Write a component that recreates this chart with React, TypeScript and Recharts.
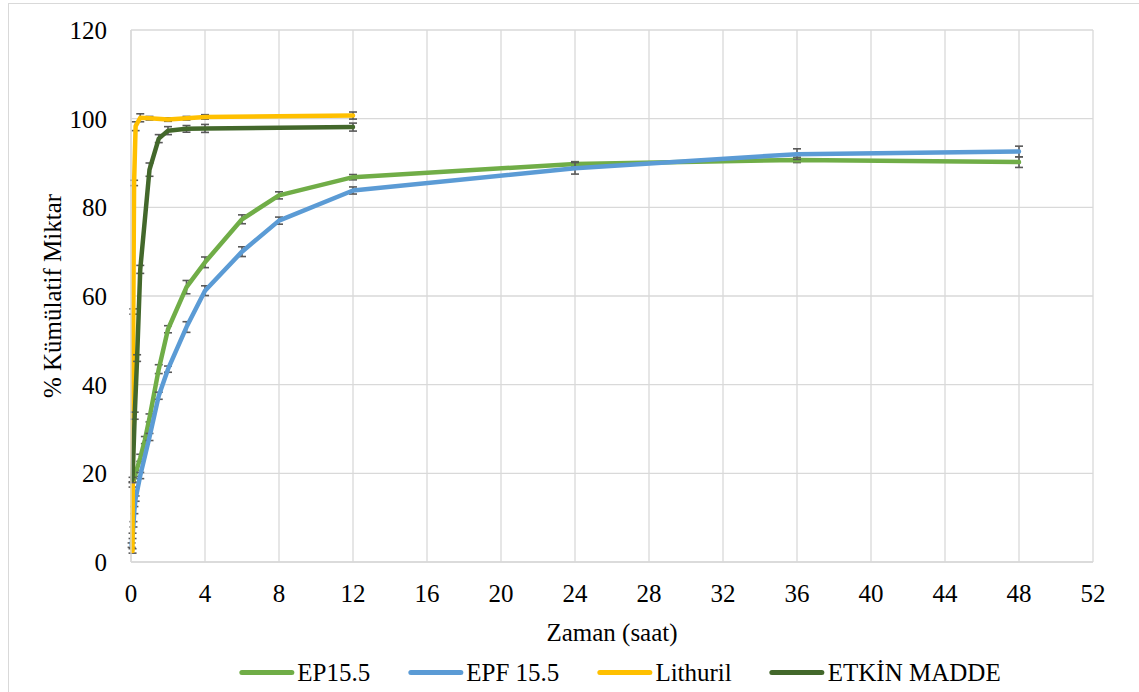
import { LineChart, Line, XAxis, YAxis, CartesianGrid, ErrorBar, Label } from "recharts";

const FONT = "'Liberation Serif', Tinos, 'Times New Roman', 'DejaVu Serif', serif";
const FS = 25;

const seriesNames = ["EP15.5", "EPF 15.5", "Lithuril", "ETKİN MADDE"];
const seriesColors = ["#70AD47", "#5B9BD5", "#FFC000", "#43682B"];

const xTicks = [0, 4, 8, 12, 16, 20, 24, 28, 32, 36, 40, 44, 48, 52];
const yTicks = [0, 20, 40, 60, 80, 100, 120];

// EP15.5
const ep155Time = [0.083, 0.25, 0.5, 0.75, 1, 1.5, 2, 3, 4, 6, 8, 12, 24, 36, 48];
const ep155Value = [17.5, 20, 23.5, 27.5, 32.5, 43.5, 52.5, 62, 67.6, 77.3, 82.7, 86.8, 89.8, 90.7, 90.2];
const ep155Err = [0.6, 0.7, 0.8, 0.8, 0.9, 1.0, 0.8, 1.5, 1.2, 1.0, 0.8, 0.6, 0.5, 0.6, 1.2];

// EPF 15.5
const epf155Time = [0.033, 0.083, 0.133, 0.183, 0.25, 0.5, 1, 1.5, 2, 3, 4, 6, 8, 12, 24, 36, 48];
const epf155Value = [3.8, 5.9, 8.5, 11.7, 14.3, 19.5, 28.2, 37.5, 43.5, 53, 61.2, 70, 77, 83.8, 88.8, 92, 92.6];
const epf155Err = [0.5, 0.6, 0.6, 0.8, 0.6, 0.7, 0.8, 0.8, 0.7, 1.2, 1.1, 1.1, 0.8, 0.8, 1.3, 1.2, 1.2];

// Lithuril
const lithTime = [0.083, 0.125, 0.167, 0.25, 0.5, 1, 2, 3, 4, 12];
const lithValue = [2.5, 56.5, 85.5, 98.3, 100.2, 100.1, 99.8, 100.1, 100.4, 100.7];
const lithErr = [0.5, 0.6, 0.6, 1.0, 0.9, 0.4, 0.4, 0.4, 0.5, 0.8];

// ETKİN MADDE
const etkinTime = [0.083, 0.2, 0.33, 0.5, 1, 1.5, 2, 3, 4, 12];
const etkinValue = [18.5, 33, 46, 66, 88.5, 95.5, 97.3, 97.7, 97.8, 98.1];
const etkinErr = [0.6, 0.8, 0.75, 0.9, 1.5, 0.9, 0.9, 0.75, 0.9, 0.9];

const toRows = (t: number[], v: number[], e: number[]) =>
  t.map((x, i) => ({ t: x, v: v[i], e: e[i] }));

const seriesData = [
  toRows(ep155Time, ep155Value, ep155Err),
  toRows(epf155Time, epf155Value, epf155Err),
  toRows(lithTime, lithValue, lithErr),
  toRows(etkinTime, etkinValue, etkinErr),
];

const XLabel = (props: any) => {
  const vb = props.viewBox || { x: 131, y: 562, width: 962, height: 130 };
  return (
    <text x={vb.x + vb.width / 2} y={vb.y + 78.5} textAnchor="middle" style={{ fontSize: FS, fontFamily: FONT }} fill="#000">
      Zaman (saat)
    </text>
  );
};

const YLabel = (props: any) => {
  const vb = props.viewBox || { x: 0, y: 30, width: 131, height: 532 };
  const cx = 61;
  const cy = vb.y + vb.height / 2;
  return (
    <text x={cx} y={cy} transform={`rotate(-90 ${cx} ${cy})`} textAnchor="middle" style={{ fontSize: FS, fontFamily: FONT }} fill="#000">
      % Kümülatif Miktar
    </text>
  );
};

const tickStyle = { fill: "#000", fontSize: FS, style: { fontFamily: FONT } };

export default function App() {
  return (
    <div style={{ position: "relative", width: 1139, height: 692, overflow: "hidden", background: "#fff", fontFamily: FONT }}>
      <style>{"body{margin:0}"}</style>
      <div style={{ position: "absolute", left: 8, top: 3, width: 1300, height: 900, border: "1px solid #D9D9D9" }} />
      <LineChart width={1139} height={692} margin={{ top: 30, right: 46, bottom: 0, left: 0 }}>
        <CartesianGrid stroke="#D9D9D9" strokeWidth={1.3} />
        <XAxis
          type="number"
          dataKey="t"
          domain={[0, 52]}
          ticks={xTicks}
          tickSize={0}
          tickMargin={22}
          tickLine={false}
          axisLine={{ stroke: "#D9D9D9", strokeWidth: 1.3 }}
          tick={tickStyle}
          height={130}
          allowDuplicatedCategory={false}
          label={<Label content={XLabel} />}
        />
        <YAxis
          type="number"
          domain={[0, 120]}
          ticks={yTicks}
          tickSize={0}
          tickMargin={24}
          tickLine={false}
          axisLine={{ stroke: "#D9D9D9", strokeWidth: 1.3 }}
          tick={tickStyle}
          width={131}
          label={<Label content={YLabel} />}
        />
        {seriesData.map((rows, i) => (
          <Line
            key={seriesNames[i]}
            name={seriesNames[i]}
            data={rows}
            dataKey="v"
            type="linear"
            stroke={seriesColors[i]}
            strokeWidth={4.5}
            strokeLinejoin="round"
            strokeLinecap="round"
            dot={false}
            activeDot={false}
            isAnimationActive={false}
          >
            <ErrorBar dataKey="e" direction="y" width={4} strokeWidth={1.6} stroke="#595959" isAnimationActive={false} />
          </Line>
        ))}
      </LineChart>
      <div
        style={{
          position: "absolute",
          left: 620,
          top: 660,
          transform: "translateX(-50%)",
          display: "flex",
          alignItems: "center",
          gap: 38,
          fontSize: FS,
          lineHeight: 1,
          color: "#000",
          whiteSpace: "nowrap",
        }}
      >
        {seriesNames.map((n, i) => (
          <div key={n} style={{ display: "flex", alignItems: "center" }}>
            <span style={{ display: "inline-block", width: 55, height: 4.5, borderRadius: 2.5, background: seriesColors[i], marginRight: 3 }} />
            <span>{n}</span>
          </div>
        ))}
      </div>
    </div>
  );
}
